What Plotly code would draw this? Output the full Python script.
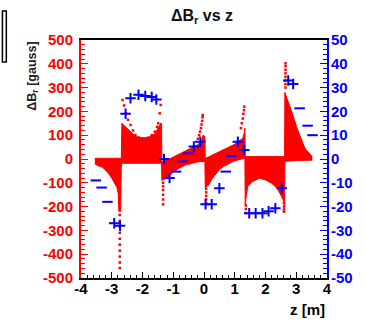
import plotly.graph_objects as go

# ---------------- data ----------------
# red: upper envelope of the Delta B_r point cloud (z [m], gauss)
hi_z = [-3.55, -2.69, -2.67, -2.55, -2.39, -2.23, -2.02, -1.81, -1.60, -1.49, -1.41, -1.38,
        -1.37, -1.20, -1.00, -0.80, -0.60, -0.40, -0.20, -0.08, -0.03, 0.03,
        0.04, 0.20, 0.36, 0.52, 0.70, 0.84, 1.00, 1.10, 1.26, 1.31, 1.33,
        1.34, 2.62,
        2.63, 2.70, 2.78, 2.85, 2.93, 3.01, 3.10, 3.17, 3.25, 3.32, 3.40, 3.48, 3.52]
hi_v = [3, 3, 150, 135, 112, 95, 88, 90, 105, 128, 150, 150,
        -12, -5, 8, 20, 33, 45, 60, 75, 100, 95,
        2, 12, 22, 31, 42, 52, 62, 73, 87, 110, 130,
        10, 10,
        280, 250, 225, 200, 165, 136, 105, 80, 55, 38, 25, 17, 10]
# red: lower envelope
lo_z = [-3.55, -3.45, -3.30, -3.14, -3.02, -2.92, -2.83, -2.79, -2.77, -2.71, -2.69, -2.66,
        -2.00, -1.38,
        -1.37, -1.20, -1.00, -0.80, -0.60, -0.40, -0.20, 0.03,
        0.04, 0.15, 0.25, 0.36, 0.50, 0.63, 0.80, 0.94, 1.10, 1.33,
        1.34, 1.38, 1.42, 1.58, 1.80, 2.00, 2.20, 2.38, 2.50, 2.58, 2.62,
        2.63, 3.00, 3.52]
lo_v = [-20, -28, -35, -55, -76, -97, -120, -145, -220, -220, -30, -18,
        -18, -18,
        -90, -80, -55, -38, -25, -17, -12, -10,
        -120, -110, -85, -67, -45, -32, -20, -11, -4, 3,
        -190, -140, -116, -95, -81, -88, -102, -123, -150, -172, -200,
        -10, -6, -5]
# red: isolated outlier points (spikes and arcs)
dot_z = [-2.74] * 10 + [-1.33] * 6 + [-0.20, -0.16, -0.13, -0.10, -0.08, -0.06, -0.05, -0.04] \
    + [0.07] * 5 + [1.20, 1.23, 1.26, 1.28, 1.30, 1.31] + [1.36] * 3 + [2.60] * 4 + [2.65] * 8 \
    + [-2.65, -2.60, -2.54, -2.47, -2.39, -2.31, -2.23, -2.12, -2.02, -1.91, -1.81, -1.70,
       -1.60, -1.53, -1.49, -1.44, -1.41]
dot_v = [-235, -260, -285, -310, -335, -360, -385, -410, -435, -458] \
    + [-100, -115, -130, -150, -170, -190] + [85, 100, 115, 130, 145, 160, 175, 185] \
    + [-125, -140, -155, -170, -185] + [130, 150, 170, 190, 205, 220] + [-195, -210, -227] \
    + [-185, -200, -212, -221] + [300, 315, 330, 345, 360, 375, 390, 402] \
    + [248, 225, 192, 165, 143, 120, 101, 90, 87, 86, 90, 100, 115, 135, 150, 192, 227]

# blue: points shown as "+" (right axis)
plus_z = [-2.92, -2.73, -2.55, -2.39, -2.13, -1.91, -1.70, -1.55, -1.30, -1.12, -0.33, -0.12,
          0.05, 0.25, 0.50, 1.10, 1.31, 1.47, 1.68, 1.90, 2.10, 2.32, 2.53, 2.74, 2.90]
plus_v = [-27, -28, 19, 25.5, 27, 26.5, 26, 25, 0, -8, 5.2, 7.3,
          -19, -19, -12.3, 7.3, 3.8, -22.8, -22.8, -22.8, -22, -20.7, -12.3, 33, 31.5]
# blue: points shown as "-"
dash_z = [-3.52, -3.33, -3.14, -0.91, -0.70, -0.51, 0.71, 0.89, 3.11, 3.37, 3.53]
dash_v = [-9, -12, -18, -5.3, -1, 2.4, -5.3, 1.3, 21.3, 14, 10]

# axis ticks
x_ticks = [-4, -3, -2, -1, 0, 1, 2, 3, 4]
y_ticks = [-500, -400, -300, -200, -100, 0, 100, 200, 300, 400, 500]
y2_ticks = [-50, -40, -30, -20, -10, 0, 10, 20, 30, 40, 50]

RED = "#ff0000"
BLUE = "#0000ff"
FONT = "Liberation Sans"

fig = go.Figure()
fig.add_trace(go.Scatter(x=lo_z, y=lo_v, mode="lines", line=dict(color=RED, width=1),
                         showlegend=False, hoverinfo="skip"))
fig.add_trace(go.Scatter(x=hi_z, y=hi_v, mode="lines", line=dict(color=RED, width=1),
                         fill="tonexty", fillcolor=RED, showlegend=False, hoverinfo="skip"))
fig.add_trace(go.Scatter(x=dot_z, y=dot_v, mode="markers",
                         marker=dict(symbol="square", size=2.5, color=RED, line=dict(width=0)),
                         showlegend=False))
fig.add_trace(go.Scatter(x=plus_z, y=plus_v, yaxis="y2", mode="markers",
                         marker=dict(symbol="cross-thin-open", size=7.5, color=BLUE,
                                     line=dict(color=BLUE, width=2)),
                         showlegend=False))
fig.add_trace(go.Scatter(x=dash_z, y=dash_v, yaxis="y2", mode="markers",
                         marker=dict(symbol="line-ew-open", size=7.5, color=BLUE,
                                     line=dict(color=BLUE, width=2)),
                         showlegend=False))

tickfont = dict(family=FONT, size=15, weight="bold")
fig.update_layout(
    width=365, height=323,
    margin=dict(l=81, r=32, t=40, b=45),
    paper_bgcolor="white", plot_bgcolor="white",
    showlegend=False,
    xaxis=dict(range=[-4, 4], tickvals=x_ticks, ticktext=[str(v) for v in x_ticks],
               ticks="inside", ticklen=6, tickwidth=1, tickcolor="black",
               minor=dict(dtick=0.2, ticks="inside", ticklen=3, tickcolor="black"),
               showline=True, linecolor="black", linewidth=2, mirror=True,
               showgrid=False, zeroline=False, ticklabelstandoff=-4,
               tickfont=dict(tickfont, color="black")),
    yaxis=dict(range=[-500, 500], tickvals=y_ticks, ticktext=[str(v) for v in y_ticks],
               ticks="inside", ticklen=7, tickwidth=1, tickcolor=RED,
               minor=dict(dtick=20, ticks="inside", ticklen=4, tickcolor=RED),
               showline=True, linecolor=RED, linewidth=2, ticklabelstandoff=3,
               showgrid=False, zeroline=False,
               tickfont=dict(tickfont, color=RED)),
    yaxis2=dict(range=[-50, 50], overlaying="y", side="right",
                tickvals=y2_ticks, ticktext=[str(v) for v in y2_ticks],
                ticks="inside", ticklen=7, tickwidth=1, tickcolor=BLUE,
                minor=dict(dtick=2, ticks="inside", ticklen=4, tickcolor=BLUE),
                showline=True, linecolor=BLUE, linewidth=2, ticklabelstandoff=-1,
                showgrid=False, zeroline=False,
                tickfont=dict(tickfont, color=BLUE)),
)

fig.add_annotation(text="ΔB<sub>r</sub> vs z", xref="paper", yref="paper",
                   x=(205 - 81) / 252, y=(278 - 17) / 238, xanchor="center", yanchor="middle",
                   showarrow=False, font=dict(family=FONT, size=16, weight="bold", color="#111"))
fig.add_annotation(text="z [m]", xref="paper", yref="paper",
                   x=1.0, y=(278 - 309) / 238, xanchor="right", yanchor="middle",
                   showarrow=False, font=dict(family=FONT, size=15, weight="bold", color="black"))
fig.add_annotation(text="ΔB<sub>r</sub> [gauss]", xref="paper", yref="paper",
                   x=(31 - 81) / 252, y=1.0, xanchor="center", yanchor="top", textangle=-90,
                   showarrow=False, font=dict(family=FONT, size=12.5, weight="bold", color="#222"))
fig.add_shape(type="rect", xref="paper", yref="paper",
              x0=(0.5 - 81) / 252, x1=(4.5 - 81) / 252,
              y0=(278 - 62) / 238, y1=(278 - 11) / 238,
              line=dict(color="black", width=1.5))

fig.write_html("out.html")
